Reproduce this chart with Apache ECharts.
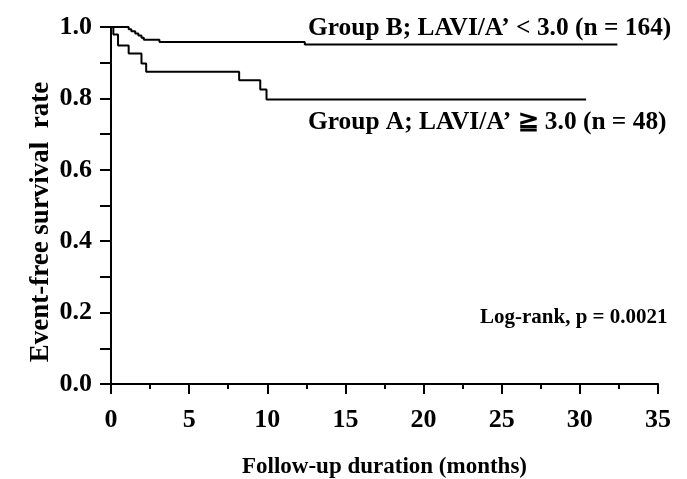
<!DOCTYPE html>
<html>
<head>
<meta charset="utf-8">
<script src="https://cdn.jsdelivr.net/npm/echarts@6/dist/echarts.min.js"></script>
<style>
html,body{margin:0;padding:0;background:#fff;}
#c{width:687px;height:479px;}
</style>
</head>
<body>
<div id="c"></div>
<script>
// Kaplan-Meier steps: [month, survival]
const groupA = [[0,1.0],[0.15,0.979],[0.45,0.948],[1.13,0.926],[1.95,0.898],[2.25,0.875],[8.2,0.851],[9.55,0.825],[9.95,0.797],[30.4,0.797]];
const groupB = [[0,1.0],[1.13,0.994],[1.3,0.988],[1.55,0.982],[1.75,0.976],[1.95,0.970],[2.1,0.964],[3.1,0.958],[12.4,0.951],[32.4,0.951]];
const labelA = 'Group A; LAVI/A\u2019 \u2267 3.0 (n = 48)';
const labelB = 'Group B; LAVI/A\u2019 < 3.0 (n = 164)';
const labelP = 'Log-rank, p = 0.0021';
const xTitle = 'Follow-up duration (months)';
const yTitle = 'Event-free survival  rate';

const FONT = '"Liberation Serif", "Times New Roman", serif';
const chart = echarts.init(document.getElementById('c'), null, {renderer:'canvas'});
const axisLine = {lineStyle:{color:'#000', width:2}};
chart.setOption({
  animation:false,
  backgroundColor:'#fff',
  grid:{left:111, right:29, top:27, bottom:95, containLabel:false, outerBoundsMode:'none'},
  xAxis:{
    type:'value', min:0, max:35, interval:5,
    name:xTitle, nameLocation:'middle', nameGap:72,
    nameTextStyle:{fontFamily:FONT, fontWeight:'bold', fontSize:23, color:'#000'},
    axisLine:axisLine,
    axisTick:{show:true, inside:false, length:10, lineStyle:{color:'#000', width:2}},
    minorTick:{show:true, splitNumber:2, length:5, lineStyle:{color:'#000', width:2}},
    axisLabel:{fontFamily:FONT, fontWeight:'bold', fontSize:26, color:'#000', margin:23},
    splitLine:{show:false}
  },
  yAxis:{
    type:'value', min:0, max:1, interval:0.2,
    axisLine:axisLine,
    axisTick:{show:true, inside:false, length:11, lineStyle:{color:'#000', width:2}},
    minorTick:{show:true, splitNumber:2, length:11, lineStyle:{color:'#000', width:2}},
    axisLabel:{fontFamily:FONT, fontWeight:'bold', fontSize:26, color:'#000', margin:19,
      formatter:function(v){return v.toFixed(1);}},
    splitLine:{show:false}
  },
  series:[
    {type:'line', step:'end', data:groupB, showSymbol:false, lineStyle:{color:'#000', width:2}, z:5},
    {type:'line', step:'end', data:groupA, showSymbol:false, lineStyle:{color:'#000', width:2}, z:5}
  ],
  graphic:[
    {type:'text', x:41, y:222, rotation:Math.PI/2,
      style:{text:yTitle, font:'bold 27px '+FONT, fill:'#000', textAlign:'center', textVerticalAlign:'middle'}},
    {type:'text', x:308, y:28,
      style:{text:labelB, font:'bold 25.4px '+FONT, fill:'#000', textAlign:'left', textVerticalAlign:'middle'}},
    {type:'text', x:308, y:122,
      style:{text:labelA, font:'bold 25.4px '+FONT, fill:'#000', textAlign:'left', textVerticalAlign:'middle'}},
    {type:'text', x:480, y:318,
      style:{text:labelP, font:'bold 21px '+FONT, fill:'#000', textAlign:'left', textVerticalAlign:'middle'}}
  ]
});
</script>
</body>
</html>
